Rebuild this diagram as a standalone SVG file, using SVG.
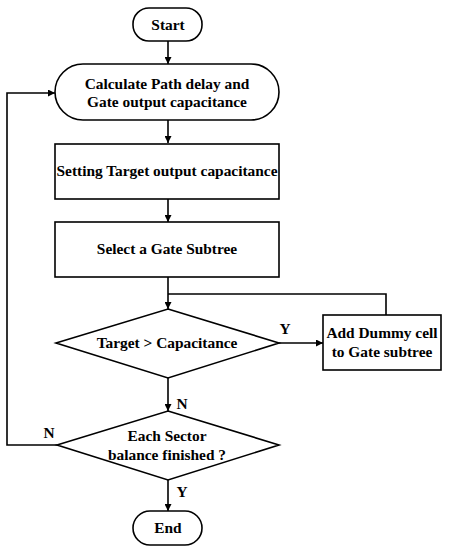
<svg xmlns="http://www.w3.org/2000/svg" width="456" height="550" viewBox="0 0 456 550">
<defs>
<marker id="arr" viewBox="0 0 10 10" refX="10" refY="5" markerWidth="7" markerHeight="7" markerUnits="userSpaceOnUse" orient="auto">
<path d="M0,0 L10,5 L0,10 z" fill="#000"/>
</marker>
<style>
.s{fill:#fff;stroke:#000;stroke-width:1.6}
.c{fill:none;stroke:#000;stroke-width:1.6}
.t{font-family:"Liberation Serif","Times New Roman",serif;font-weight:bold;font-size:15.4px;fill:#000;text-anchor:middle}
</style>
</defs>
<rect width="456" height="550" fill="#fff"/>
<g id="connectors">
<path class="c" d="M168,41 V64" marker-end="url(#arr)"/>
<path class="c" d="M168,120 V143" marker-end="url(#arr)"/>
<path class="c" d="M168,199 V222" marker-end="url(#arr)"/>
<path class="c" d="M168,277 V309" marker-end="url(#arr)"/>
<path class="c" d="M168,294 H386 V315"/>
<path class="c" d="M279,343 H323" marker-end="url(#arr)"/>
<path class="c" d="M168,378 V411" marker-end="url(#arr)"/>
<path class="c" d="M168,480 V511" marker-end="url(#arr)"/>
<path class="c" d="M57,445 H7 V93 H55" marker-end="url(#arr)"/>
<text class="t" x="285" y="334">Y</text>
<text class="t" x="182" y="409">N</text>
<text class="t" x="49" y="438">N</text>
<text class="t" x="182" y="497">Y</text>
</g>
<g id="start"><rect class="s" x="133" y="8" width="69" height="33" rx="16"/><text class="t" x="168" y="30">Start</text></g>
<g id="calc"><rect class="s" x="55" y="64" width="224" height="56" rx="28"/><text class="t" x="167" y="89">Calculate Path delay and</text><text class="t" x="167" y="107">Gate output capacitance</text></g>
<g id="setting"><rect class="s" x="55" y="144" width="224" height="55"/><text class="t" x="167" y="176">Setting Target output capacitance</text></g>
<g id="select"><rect class="s" x="55" y="222" width="224" height="55"/><text class="t" x="167" y="254">Select a Gate Subtree</text></g>
<g id="decision1"><polygon class="s" points="168,309 279,343 168,378 56,343"/><text class="t" x="167" y="348">Target &gt; Capacitance</text></g>
<g id="dummy"><rect class="s" x="323" y="315" width="118" height="55"/><text class="t" x="382" y="338">Add Dummy cell</text><text class="t" x="382" y="357">to Gate subtree</text></g>
<g id="decision2"><polygon class="s" points="168,411 279,445 168,480 57,445"/><text class="t" x="167" y="441">Each Sector</text><text class="t" x="167" y="460">balance finished ?</text></g>
<g id="end"><rect class="s" x="133" y="511" width="69" height="34" rx="17"/><text class="t" x="168" y="533">End</text></g>
</svg>
